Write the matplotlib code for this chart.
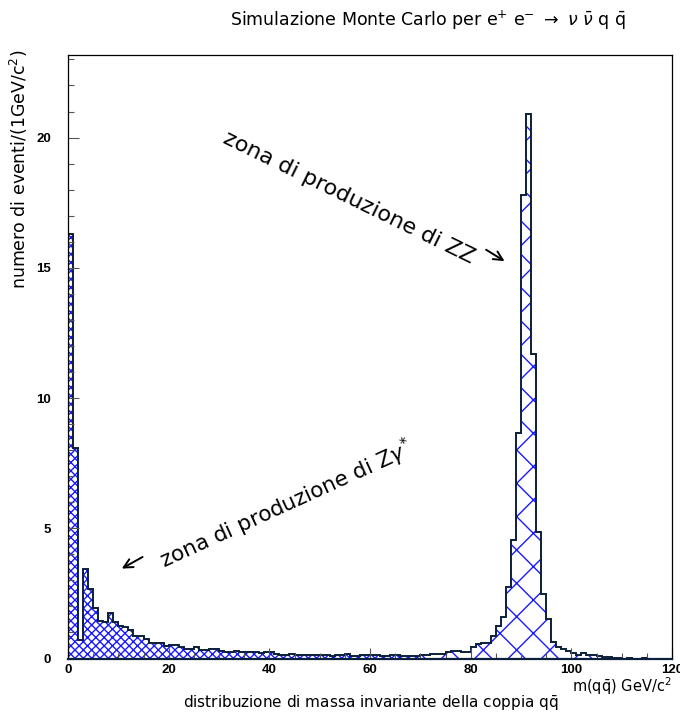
import numpy as np
import matplotlib
matplotlib.use('Agg')
import matplotlib.pyplot as plt
from matplotlib.ticker import MultipleLocator

# contenuto per bin di 1 GeV, da 0 a 120 GeV
counts = [16.3, 8.1, 0.7, 3.43, 2.65, 1.92, 1.45, 1.42, 1.76, 1.42,
          1.25, 1.2, 1.08, 0.86, 0.88, 0.75, 0.59, 0.59, 0.59, 0.47,
          0.5, 0.5, 0.45, 0.38, 0.38, 0.43, 0.33, 0.33, 0.37, 0.37,
          0.28, 0.26, 0.26, 0.29, 0.24, 0.24, 0.24, 0.26, 0.2, 0.26,
          0.26, 0.17, 0.15, 0.15, 0.18, 0.15, 0.15, 0.15, 0.13, 0.13,
          0.15, 0.15, 0.09, 0.12, 0.12, 0.18, 0.09, 0.09, 0.12, 0.12,
          0.15, 0.15, 0.08, 0.08, 0.14, 0.12, 0.08, 0.08, 0.08, 0.08,
          0.14, 0.14, 0.17, 0.17, 0.17, 0.24, 0.28, 0.28, 0.26, 0.26,
          0.45, 0.54, 0.6, 0.6, 0.85, 1.25, 1.6, 2.75, 4.54, 8.67,
          17.8, 20.9, 11.7, 4.86, 2.49, 1.53, 0.64, 0.45, 0.38, 0.3,
          0.2, 0.15, 0.2, 0.15, 0.15, 0.08, 0.06, 0.06, 0.03, 0.03,
          0.0, 0.03, 0.0, 0.0, 0.03, 0.0, 0.0, 0.0, 0.0, 0.0]
edges = np.arange(0, 121, 1)
coarse_from = 70  # da qui il tratteggio e' piu' largo

title = r'Simulazione Monte Carlo per e$^{+}$ e$^{-}$ $\rightarrow$ $\nu\ \bar{\nu}$ q $\bar{\mathrm{q}}$'
ylabel = r'numero di eventi/(1GeV/c$^{2}$)'
xlabel1 = r'm(q$\bar{\mathrm{q}}$) GeV/c$^{2}$'
xlabel2 = r'distribuzione di massa invariante della coppia q$\bar{\mathrm{q}}$'
note_zz = 'zona di produzione di ZZ'
note_zg = r'zona di produzione di Z$\gamma^{*}$'

plt.rcParams['hatch.linewidth'] = 1.0
plt.rcParams['mathtext.fontset'] = 'dejavusans'

counts = np.array(counts)
fig = plt.figure(figsize=(6.8, 7.16), dpi=100)
ax = fig.add_axes([68/680, 1-658.5/716, 604/680, 603.5/716])

blue = '#1a1aff'
navy = '#0b1f3a'

dense = np.where(edges[:-1] < coarse_from, counts, 0.0)
coarse = np.where(edges[:-1] >= coarse_from, counts, 0.0)
ax.stairs(dense, edges, fill=True, facecolor='white', edgecolor=blue,
          hatch='xxxx', linewidth=0)
ax.stairs(coarse, edges, fill=True, facecolor='white', edgecolor=blue,
          hatch='x', linewidth=0)
ax.stairs(counts, edges, color=navy, linewidth=1.4)

ax.set_xlim(0, 120)
ax.set_ylim(0, 23.17)
ax.xaxis.set_major_locator(MultipleLocator(20))
ax.xaxis.set_minor_locator(MultipleLocator(5))
ax.yaxis.set_major_locator(MultipleLocator(5))
ax.yaxis.set_minor_locator(MultipleLocator(1))
ax.tick_params(which='both', direction='in', top=False, right=False, width=0.8, color='#555555')
ax.tick_params(which='major', length=8)
ax.tick_params(which='minor', length=4)
ax.tick_params(axis='y', pad=12)
ax.tick_params(axis='x', pad=4)
for lab in ax.get_xticklabels() + ax.get_yticklabels():
    lab.set_fontfamily('Liberation Sans')
    lab.set_fontweight('bold')
    lab.set_fontsize(9.5)
for s in ax.spines.values():
    s.set_linewidth(0.9)
ax.spines['bottom'].set_color(navy)
ax.spines['bottom'].set_linewidth(1.6)

fig.text(428/680, 1-20/716, title, ha='center', va='center', fontsize=12.5)
fig.text(19/680, 1-50/716, ylabel, ha='center', va='top', rotation=90, fontsize=12.5)
fig.text(672/680, 1-686/716, xlabel1, ha='right', va='center', fontsize=10.5)
fig.text(371/680, 1-703/716, xlabel2, ha='center', va='center', fontsize=11)

ax.text(30.6, 19.8, note_zz, rotation=-26, rotation_mode='anchor', ha='left', va='baseline', fontsize=16)
ax.annotate('', xy=(87.2, 15.2), xytext=(82.6, 15.75),
            arrowprops=dict(arrowstyle='->', lw=1.4, color='black', mutation_scale=16))
ax.text(18.5, 3.7, note_zg, rotation=24.5, rotation_mode='anchor', ha='left', va='center', fontsize=15.5)
ax.annotate('', xy=(10.2, 3.4), xytext=(15.3, 3.95),
            arrowprops=dict(arrowstyle='->', lw=1.4, color='black', mutation_scale=16))

fig.savefig('out.png', dpi=100)
